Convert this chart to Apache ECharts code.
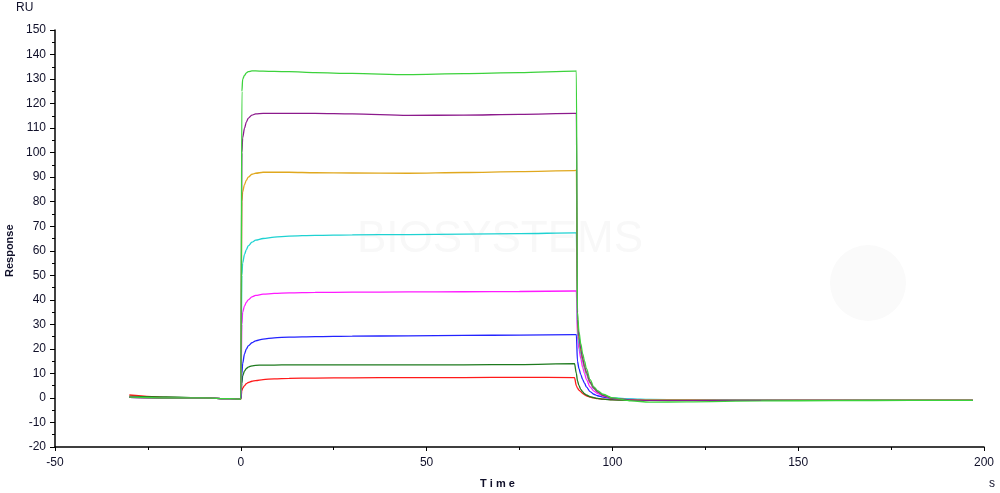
<!DOCTYPE html>
<html>
<head>
<meta charset="utf-8">
<script src="https://cdn.jsdelivr.net/npm/echarts@6/dist/echarts.min.js"></script>
<style>
  html, body { margin: 0; padding: 0; background: #fff; }
  #chart { width: 1000px; height: 493px; }
</style>
</head>
<body>
<div id="chart"></div>
<script>
// time points (s) shared by every curve
const times = [-30, -20, -10, -3, 0, 0.3, 0.5, 1, 1.5, 2, 3, 4, 6, 9, 13, 20, 30, 45, 60, 75,
  89.8, 90.3, 90.6, 91, 91.5, 92, 92.5, 93, 94, 95, 96, 97.5, 100, 105, 110, 120, 140, 160, 180, 197];

// response (RU) per concentration
const redVals = [1.2, 0.2, 0, -0.3, -0.5, 3, 4, 5, 5.8, 6.3, 6.8, 7.1, 7.5, 7.8, 8, 8.1, 8.2, 8.3, 8.3, 8.4,
  8.3, 5, 4, 3.2, 2.5, 1.8, 1.3, 0.9, 0.3, 0, -0.3, -0.5, -0.7, -0.9, -1, -1, -1, -1, -1, -1];
const darkGreenVals = [0.6, 0.4, 0, -0.3, -0.5, 6, 9, 11, 12, 12.6, 13.1, 13.3, 13.4, 13.4, 13.5, 13.5, 13.5, 13.5, 13.5, 13.6,
  14, 10, 7, 5, 3.5, 2.5, 1.7, 1.2, 0.5, 0.1, -0.2, -0.5, -0.8, -1, -1, -1, -1, -1, -1, -1];
const blueVals = [0.2, 0, 0, -0.3, -0.5, 10, 14, 18, 20, 21.2, 22.5, 23.3, 24, 24.5, 24.8, 25, 25.2, 25.3, 25.5, 25.6,
  25.8, 25.8, 15, 12, 9.5, 7.5, 6, 4.5, 2.6, 1.5, 0.9, 0.3, -0.3, -0.6, -0.8, -0.9, -1, -1, -1, -1];
const magentaVals = [0.2, 0, 0, -0.3, -0.5, 30, 35, 37.5, 39, 40, 41.2, 41.8, 42.3, 42.6, 42.8, 43, 43.1, 43.2, 43.3, 43.4,
  43.6, 43.6, 25, 20, 16, 12.5, 10, 7.5, 4.5, 2.8, 1.8, 0.8, -0.2, -0.6, -0.8, -0.9, -1, -1, -1, -1];
const cyanVals = [0.2, 0, 0, -0.3, -0.5, 50, 55, 58.5, 60.5, 62, 63.5, 64.3, 65, 65.6, 66, 66.3, 66.5, 66.6, 66.8, 67,
  67.3, 67.3, 28, 22, 18, 15, 12, 9.5, 6, 3.8, 2.5, 1.2, 0, -0.4, -0.6, -0.7, -0.8, -0.9, -1, -1];
const orangeVals = [0.2, 0, 0, -0.3, -0.5, 80, 84, 87, 88.8, 90, 91.2, 91.6, 92, 92, 92, 91.8, 91.7, 91.6, 91.9, 92.3,
  92.7, 92.8, 30, 24, 19, 15.5, 12.5, 10, 6.2, 4, 2.5, 1, -0.2, -0.7, -0.8, -0.8, -0.9, -0.9, -0.9, -0.9];
const purpleVals = [0.2, 0, 0, -0.3, -0.5, 100, 106, 110, 112.5, 114, 115.3, 115.8, 116, 116, 116, 116, 115.8, 115.2, 115.3, 115.6,
  116, 116, 32, 25, 20, 16, 13, 10.5, 6.5, 4, 2.5, 1, -0.2, -0.8, -1, -1, -1, -1, -1, -1];
const greenVals = [0.3, 0, 0, -0.3, -0.5, 125, 130, 131.5, 132.5, 133, 133.3, 133.3, 133.2, 133.1, 133, 132.6, 132.3, 131.8, 132.2, 132.6,
  133.2, 133.3, 35, 27, 22, 18, 15, 12, 7.5, 4.5, 3, 1.5, 0, -1.2, -1.7, -1.6, -1.2, -1.1, -1, -1];

const xTicks = { min: -50, max: 200, step: 50 };
const yTicks = { min: -20, max: 150, step: 10 };

const curves = [
  { name: 'c1', color: '#ff1a1a', vals: redVals },
  { name: 'c2', color: '#1e7a1e', vals: darkGreenVals },
  { name: 'c3', color: '#2323ff', vals: blueVals },
  { name: 'c4', color: '#ff1aff', vals: magentaVals },
  { name: 'c5', color: '#1ed2d2', vals: cyanVals },
  { name: 'c6', color: '#e0a81e', vals: orangeVals },
  { name: 'c7', color: '#8c1a8c', vals: purpleVals },
  { name: 'c8', color: '#3cd23c', vals: greenVals }
];

const labelColor = '#10102a';
const font = 'Liberation Sans, Arial, sans-serif';

const chart = echarts.init(document.getElementById('chart'));
chart.setOption({
  animation: false,
  textStyle: { fontFamily: font },
  grid: { left: 55, right: 16, top: 30, bottom: 46 },
  graphic: [
    // faint watermark
    { type: 'text', left: 357, top: 218, z: 0, silent: true,
      style: { text: 'BIOSYSTEMS', fill: '#f8f8f8', font: '44px ' + font } },
    { type: 'circle', shape: { cx: 868, cy: 283, r: 38 }, z: 0, silent: true,
      style: { fill: '#fafafa' } },
    { type: 'text', left: 16, top: 2, style: { text: 'RU', fill: labelColor, font: '12px ' + font } },
    { type: 'text', x: 4, y: 277, rotation: Math.PI / 2,
      style: { text: 'Response', fill: labelColor, font: 'bold 11px ' + font } },
    { type: 'text', left: 480, top: 478, style: { text: 'T i m e', fill: labelColor, font: 'bold 11px ' + font } },
    { type: 'text', left: 989, top: 478, style: { text: 's', fill: labelColor, font: '12px ' + font } }
  ],
  xAxis: {
    type: 'value',
    min: xTicks.min,
    max: xTicks.max,
    interval: xTicks.step,
    axisLine: { onZero: false, lineStyle: { color: '#000', width: 1.5 } },
    axisTick: { length: 4, lineStyle: { color: '#000' } },
    minorTick: { show: true, splitNumber: 2, length: 3, lineStyle: { color: '#000' } },
    axisLabel: { color: labelColor, fontSize: 12, margin: 10 },
    splitLine: { show: false }
  },
  yAxis: {
    type: 'value',
    min: yTicks.min,
    max: yTicks.max,
    interval: yTicks.step,
    axisLine: { show: true, onZero: false, lineStyle: { color: '#000', width: 1.5 } },
    axisTick: { show: true, length: 5, lineStyle: { color: '#000' } },
    minorTick: { show: true, splitNumber: 2, length: 3, lineStyle: { color: '#000' } },
    axisLabel: { color: labelColor, fontSize: 12, margin: 9 },
    splitLine: { show: false }
  },
  series: curves.map(c => ({
    name: c.name,
    type: 'line',
    data: times.map((t, i) => [t, c.vals[i]]),
    showSymbol: false,
    smooth: 0.3,
    smoothMonotone: 'x',
    lineStyle: { color: c.color, width: 1.3 },
    itemStyle: { color: c.color },
    z: 3
  }))
});
</script>
</body>
</html>
